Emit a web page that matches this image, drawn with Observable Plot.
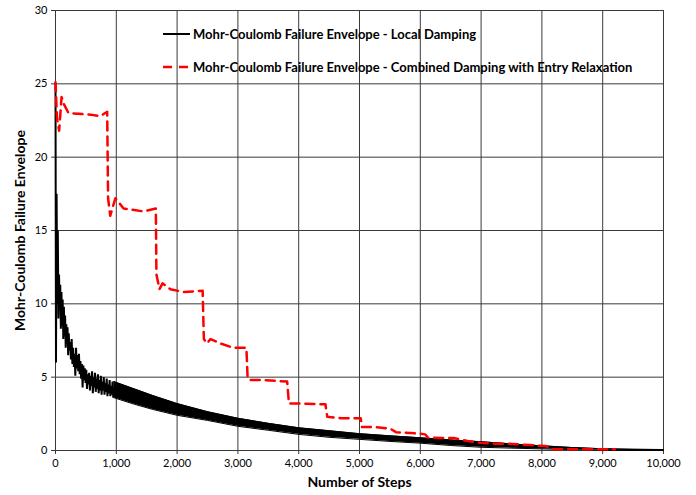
<!DOCTYPE html>
<html>
<head>
<meta charset="utf-8">
<script src="https://cdn.jsdelivr.net/npm/d3@7"></script>
<script src="https://cdn.jsdelivr.net/npm/@observablehq/plot@0.6"></script>
<style>
  html, body { margin: 0; padding: 0; background: #fff; }
  #wrap { position: relative; width: 696px; height: 495px; font-family: Lato, "Open Sans", sans-serif; }
  #legend { position: absolute; left: 163px; top: 24px; font-family: Lato, sans-serif; font-weight: bold; font-size: 13px; color: #000; }
  .row { position: absolute; left: 0; white-space: nowrap; display: flex; align-items: center; height: 20px; }
  .row svg { display: block; margin-right: 3px; }
</style>
</head>
<body>
<div id="wrap">
  <div id="chart"></div>
  <div id="legend"></div>
</div>
<script>
// ---- data ----
const xTicks = [0, 1000, 2000, 3000, 4000, 5000, 6000, 7000, 8000, 9000, 10000];
const yTicks = [0, 5, 10, 15, 20, 25, 30];

const seriesNames = [
  "Mohr-Coulomb Failure Envelope - Local Damping",
  "Mohr-Coulomb Failure Envelope - Combined Damping with Entry Relaxation"
];

// Local damping: early oscillating part (hand-read zigzag)
const localSteps = [0, 8, 18, 28, 38, 48, 58, 68, 78, 88, 98, 108, 118, 128, 138, 148, 158, 168, 178, 188, 198, 208, 218, 230, 242, 254, 266, 278, 290, 302, 314, 326, 338, 350, 362, 374, 386, 398, 410, 422, 434, 446, 458, 470, 482, 494, 506, 518, 530, 542, 554, 566, 578, 590, 602, 614, 626, 638, 650, 662, 674, 686, 698, 710, 722, 734, 746, 758, 770, 782, 794, 806, 818, 830, 842, 854, 866, 878, 890, 902, 914, 926, 938, 950, 962, 974, 986, 998, 1010];
const localValues = [25.0, 6.0, 17.5, 10.0, 15.0, 9.0, 12.0, 9.6, 11.3, 8.3, 10.8, 8.5, 10.3, 7.6, 9.8, 7.8, 9.2, 7.0, 8.6, 7.3, 8.4, 6.5, 8.0, 6.8, 7.4, 6.2, 7.6, 5.9, 7.0, 5.7, 6.6, 5.1, 7.0, 5.6, 6.5, 5.4, 6.6, 5.2, 6.1, 4.9, 5.9, 4.3, 5.8, 4.8, 5.6, 4.6, 5.5, 4.2, 5.2, 4.5, 5.3, 4.1, 5.1, 4.4, 5.4, 3.9, 5.0, 4.3, 5.3, 4.0, 4.9, 4.2, 5.2, 3.9, 4.8, 4.1, 5.1, 3.8, 4.7, 4.1, 5.0, 3.8, 4.6, 4.0, 4.9, 3.7, 4.5, 3.9, 4.8, 3.7, 4.4, 3.8, 4.7, 3.6, 4.3, 3.7, 4.6, 3.6, 4.4];

// Local damping: dense oscillation band (outer edges) for later steps
const bandSteps = [960, 1300, 1600, 2000, 2500, 3000, 3500, 4000, 4500, 5000, 5500, 6000, 6500, 7000, 7500, 8000, 8500, 9000, 9500, 10000];
const bandUpper = [4.7, 4.2, 3.75, 3.2, 2.65, 2.2, 1.85, 1.55, 1.35, 1.15, 1.0, 0.87, 0.72, 0.6, 0.45, 0.32, 0.2, 0.12, 0.08, 0.06];
const bandLower = [3.6, 3.15, 2.8, 2.4, 2.05, 1.65, 1.38, 1.1, 0.9, 0.76, 0.62, 0.5, 0.34, 0.22, 0.16, 0.11, 0.06, 0.02, 0.0, 0.0];

// Combined damping with entry relaxation
const combSteps = [0, 25, 60, 100, 140, 215, 575, 740, 850, 865, 900, 985, 1120, 1450, 1650, 1660, 1710, 1760, 1890, 2110, 2420, 2440, 2490, 2550, 2710, 2930, 3140, 3160, 3210, 3420, 3810, 3840, 4080, 4440, 4470, 4690, 5020, 5040, 5230, 5500, 5600, 6000, 6080, 6130, 6550, 6780, 6990, 7240, 7520, 7810, 8060, 8200, 9200];
const combValues = [25.1, 22.6, 21.8, 24.1, 23.6, 23.0, 22.9, 22.8, 23.1, 17.2, 16.0, 17.2, 16.5, 16.3, 16.5, 12.0, 11.0, 11.4, 11.0, 10.8, 10.9, 7.6, 7.3, 7.6, 7.3, 7.0, 7.0, 4.9, 4.8, 4.8, 4.7, 3.2, 3.2, 3.15, 2.3, 2.2, 2.2, 1.6, 1.6, 1.5, 1.25, 1.15, 1.1, 0.87, 0.85, 0.65, 0.53, 0.46, 0.45, 0.37, 0.3, 0.08, 0.08];

// ---- tables built from the arrays ----
const local = localSteps.map((s, i) => ({step: s, value: localValues[i]}));
const band = bandSteps.map((s, i) => ({step: s, hi: bandUpper[i], lo: bandLower[i]}));
const comb = combSteps.map((s, i) => ({step: s, value: combValues[i]}));

const FONT = "Lato, 'Open Sans', sans-serif";
const gridColor = "#3a3a3a";

const chart = Plot.plot({
  width: 696,
  height: 495,
  marginLeft: 55,
  marginRight: 33,
  marginTop: 10,
  marginBottom: 45,
  style: {fontFamily: FONT, fontSize: "11px", color: "#000", background: "#fff"},
  x: {domain: [0, 10000], label: null},
  y: {domain: [0, 30], label: null},
  marks: [
    Plot.gridY(yTicks, {stroke: gridColor, strokeOpacity: 1, strokeWidth: 1}),
    Plot.gridX(xTicks, {stroke: gridColor, strokeOpacity: 1, strokeWidth: 1}),
    Plot.axisY(yTicks, {tickSize: 4, tickPadding: 4, stroke: gridColor, fontSize: 11, label: null}),
    Plot.axisX(xTicks, {tickSize: 4, tickPadding: 5, stroke: gridColor, fontSize: 11, tickFormat: d3.format(","), label: null}),
    Plot.areaY(band, {x: "step", y1: "lo", y2: "hi", fill: "#000", curve: "linear"}),
    Plot.line(band, {x: "step", y: "hi", stroke: "#000", strokeWidth: 1}),
    Plot.line(band, {x: "step", y: "lo", stroke: "#000", strokeWidth: 1}),
    Plot.line(local, {x: "step", y: "value", stroke: "#000", strokeWidth: 2, strokeLinejoin: "miter"}),
    Plot.line(comb, {x: "step", y: "value", stroke: "#ff0000", strokeWidth: 2.5, strokeDasharray: "9,6"}),
    Plot.text(["Mohr-Coulomb Failure Envelope"], {frameAnchor: "left", textAnchor: "middle", dx: -35, rotate: -90, fontWeight: "bold", fontSize: 14, fill: "#000"}),
    Plot.text(["Number of Steps"], {frameAnchor: "bottom", dy: 36, fontWeight: "bold", fontSize: 14, fill: "#000"})
  ]
});
document.getElementById("chart").appendChild(chart);

// legend
const legend = document.getElementById("legend");
const styles = [
  {stroke: "#000", width: 2, dash: null},
  {stroke: "#ff0000", width: 2.5, dash: "9,7"}
];
seriesNames.forEach((name, i) => {
  const row = document.createElement("div");
  row.className = "row";
  row.style.top = (i * 33) + "px";
  const st = styles[i];
  row.innerHTML = `<svg width="27" height="6"><line x1="0" x2="27" y1="3" y2="3" stroke="${st.stroke}" stroke-width="${st.width}" ${st.dash ? `stroke-dasharray="${st.dash}"` : ""}/></svg><span>${name}</span>`;
  legend.appendChild(row);
});
</script>
</body>
</html>
